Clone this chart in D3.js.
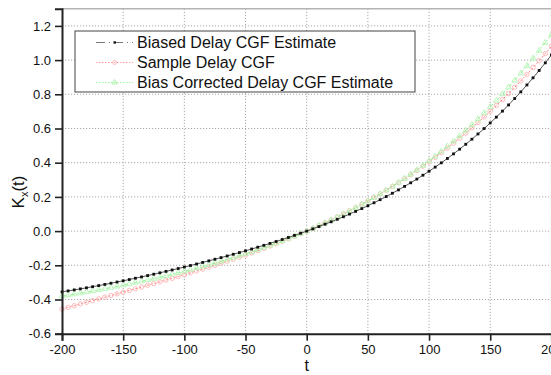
<!DOCTYPE html>
<html>
<head>
<meta charset="utf-8">
<script src="https://d3js.org/d3.v7.min.js"></script>
<style>
  body { margin: 0; background: #fff; }
  svg { display: block; font-family: Arial, "Liberation Sans", sans-serif; }
</style>
</head>
<body>
<div id="chart"></div>
<script>
// t values (x axis), one point every 5
const tValues = d3.range(-200, 205, 5);

// Biased Delay CGF Estimate
const biased = [-0.3552, -0.3496, -0.3438, -0.3378, -0.3316, -0.3252, -0.3186, -0.3119, -0.3049, -0.2978,
  -0.2906, -0.2832, -0.2756, -0.2679, -0.2600, -0.2521, -0.2439, -0.2357, -0.2273, -0.2188,
  -0.2101, -0.2013, -0.1923, -0.1833, -0.1740, -0.1646, -0.1551, -0.1454, -0.1355, -0.1254,
  -0.1152, -0.1047, -0.0941, -0.0832, -0.0721, -0.0608, -0.0492, -0.0373, -0.0252, -0.0127, 0,
  0.0131, 0.0265, 0.0402, 0.0544, 0.0689, 0.0839, 0.0993, 0.1152, 0.1315, 0.1484,
  0.1657, 0.1837, 0.2022, 0.2213, 0.2410, 0.2614, 0.2825, 0.3043, 0.3268, 0.3501,
  0.3742, 0.3991, 0.4249, 0.4516, 0.4792, 0.5078, 0.5374, 0.5680, 0.5997, 0.6325,
  0.6664, 0.7015, 0.7379, 0.7755, 0.8144, 0.8547, 0.8964, 0.9394, 0.9840, 1.0301];

// Sample Delay CGF
const sample = [-0.456, -0.4460, -0.4361, -0.4262, -0.4163, -0.4065, -0.3966, -0.3868, -0.3769, -0.3671,
  -0.3572, -0.3473, -0.3373, -0.3273, -0.3172, -0.3071, -0.2969, -0.2866, -0.2762, -0.2656,
  -0.255, -0.2442, -0.2333, -0.2223, -0.2110, -0.1997, -0.1881, -0.1763, -0.1643, -0.1521,
  -0.1397, -0.1270, -0.1141, -0.1009, -0.0874, -0.0737, -0.0596, -0.0452, -0.0305, -0.0154, 0,
  0.0158, 0.0320, 0.0485, 0.0655, 0.0829, 0.1008, 0.1191, 0.1378, 0.1571, 0.1768,
  0.1971, 0.2179, 0.2392, 0.2611, 0.2835, 0.3066, 0.3302, 0.3545, 0.3794, 0.405,
  0.4312, 0.4582, 0.4858, 0.5141, 0.5432, 0.5731, 0.6037, 0.6351, 0.6673, 0.7003,
  0.7342, 0.7689, 0.8045, 0.8410, 0.8785, 0.9168, 0.9561, 0.9964, 1.0377, 1.080];

// Bias Corrected Delay CGF Estimate
const corrected = [-0.380, -0.3743, -0.3685, -0.3626, -0.3565, -0.3502, -0.3437, -0.3371, -0.3303, -0.3233,
  -0.3162, -0.3089, -0.3014, -0.2937, -0.2859, -0.2779, -0.2697, -0.2613, -0.2528, -0.2440,
  -0.235, -0.2258, -0.2164, -0.2068, -0.1969, -0.1868, -0.1765, -0.1659, -0.1550, -0.1439,
  -0.1324, -0.1207, -0.1087, -0.0963, -0.0837, -0.0706, -0.0573, -0.0435, -0.0294, -0.0149, 0,
  0.0153, 0.0311, 0.0473, 0.0640, 0.0812, 0.0989, 0.1171, 0.1359, 0.1552, 0.1751,
  0.1956, 0.2166, 0.2384, 0.2608, 0.2838, 0.3076, 0.3320, 0.3573, 0.3832, 0.41,
  0.4376, 0.4660, 0.4953, 0.5254, 0.5565, 0.5885, 0.6214, 0.6554, 0.6903, 0.7263,
  0.7634, 0.8016, 0.8409, 0.8813, 0.9230, 0.9658, 1.0099, 1.0553, 1.1020, 1.150];

const seriesNames = ["Biased Delay CGF Estimate", "Sample Delay CGF", "Bias Corrected Delay CGF Estimate"];

const xTicks = [-200, -150, -100, -50, 0, 50, 100, 150, 200];
const yTicks = [-0.6, -0.4, -0.2, 0.0, 0.2, 0.4, 0.6, 0.8, 1.0, 1.2];

class CgfChart {

  constructor(_config) {
    this.config = {
      parentElement: _config.parentElement,
      containerWidth: 551,
      containerHeight: 375,
      margin: {top: 8.8, right: -0.4, bottom: 41.3, left: 62}
    }
    this.initVis();
  }

  initVis() {
    let vis = this;
    let c = vis.config;
    vis.width = c.containerWidth - c.margin.left - c.margin.right;
    vis.height = c.containerHeight - c.margin.top - c.margin.bottom;

    vis.svg = d3.select(c.parentElement).append('svg')
        .attr('width', c.containerWidth)
        .attr('height', c.containerHeight);

    vis.chart = vis.svg.append('g')
        .attr('transform', `translate(${c.margin.left},${c.margin.top})`);

    vis.x = d3.scaleLinear().domain([-200, 200]).range([0, vis.width]);
    vis.y = d3.scaleLinear().domain([-0.6, 1.3]).range([vis.height, 0]);

    // dotted grid
    vis.chart.append('g').selectAll('line.gx')
      .data(xTicks.slice(1))
      .join('line')
        .attr('x1', d => vis.x(d)).attr('x2', d => vis.x(d))
        .attr('y1', 0).attr('y2', vis.height)
        .attr('stroke', '#aaa').attr('stroke-width', 1)
        .attr('stroke-dasharray', '1.2,1.8');
    vis.chart.append('g').selectAll('line.gy')
      .data(yTicks.slice(1))
      .join('line')
        .attr('x1', 0).attr('x2', vis.width)
        .attr('y1', d => vis.y(d)).attr('y2', d => vis.y(d))
        .attr('stroke', '#aaa').attr('stroke-width', 1)
        .attr('stroke-dasharray', '1.2,1.8');

    // top frame line
    vis.chart.append('line')
      .attr('x1', 0).attr('x2', vis.width)
      .attr('y1', 0).attr('y2', 0)
      .attr('stroke', '#b4b4b4').attr('stroke-width', 1.5);

    vis.drawSeries();
    vis.drawLegend();
    vis.drawAxes();
  }

  drawSeries() {
    let vis = this;
    const line = vals => d3.line()
      .x((d, i) => vis.x(tValues[i]))
      .y(d => vis.y(d))(vals);

    // sample (red)
    vis.chart.append('path')
      .attr('d', line(sample))
      .attr('fill', 'none').attr('stroke', '#ff7b7b').attr('stroke-width', 1)
      .attr('stroke-dasharray', '2,2');
    vis.chart.append('g').selectAll('circle')
      .data(sample)
      .join('circle')
        .attr('cx', (d, i) => vis.x(tValues[i]))
        .attr('cy', d => vis.y(d))
        .attr('r', 2.2)
        .attr('fill', 'none').attr('stroke', '#ffb4b4').attr('stroke-width', 0.9);

    // corrected (green)
    vis.chart.append('path')
      .attr('d', line(corrected))
      .attr('fill', 'none').attr('stroke', '#8cf08c').attr('stroke-width', 1)
      .attr('stroke-dasharray', '4,2,1,2');
    vis.chart.append('g').selectAll('path.tri')
      .data(corrected)
      .join('path')
        .attr('d', d3.symbol(d3.symbolTriangle, 14))
        .attr('transform', (d, i) => `translate(${vis.x(tValues[i])},${vis.y(d)})`)
        .attr('fill', 'none').attr('stroke', '#b4f5b4').attr('stroke-width', 0.9);

    // biased (black)
    vis.chart.append('path')
      .attr('d', line(biased))
      .attr('fill', 'none').attr('stroke', '#555').attr('stroke-width', 1);
    vis.chart.append('g').selectAll('rect')
      .data(biased)
      .join('rect')
        .attr('x', (d, i) => vis.x(tValues[i]) - 1.4)
        .attr('y', d => vis.y(d) - 1.4)
        .attr('width', 2.8).attr('height', 2.8)
        .attr('fill', '#111');
  }

  drawLegend() {
    let vis = this;
    const lg = vis.svg.append('g').attr('transform', 'translate(75,31)');
    lg.append('rect')
      .attr('width', 340).attr('height', 61)
      .attr('fill', '#fff').attr('stroke', '#444').attr('stroke-width', 1);

    const rows = [
      {stroke: '#777', dash: '9,4,1,4', mark: 'rect', mcol: '#111'},
      {stroke: '#ff9a9a', dash: '1.5,1.5', mark: 'circle', mcol: '#ffc0c0'},
      {stroke: '#9cf59c', dash: '1.5,1.5', mark: 'tri', mcol: '#aef5ae'}
    ];
    rows.forEach((r, i) => {
      const cy = 11.5 + i * 20;
      lg.append('line')
        .attr('x1', 21).attr('x2', 58).attr('y1', cy).attr('y2', cy)
        .attr('stroke', r.stroke).attr('stroke-width', 1)
        .attr('stroke-dasharray', r.dash);
      if (r.mark == 'rect') {
        lg.append('rect').attr('x', 38.5).attr('y', cy - 1.2)
          .attr('width', 2.4).attr('height', 2.4).attr('fill', r.mcol);
      } else if (r.mark == 'circle') {
        lg.append('circle').attr('cx', 39.5).attr('cy', cy).attr('r', 2)
          .attr('fill', 'none').attr('stroke', r.mcol);
      } else {
        lg.append('path').attr('d', d3.symbol(d3.symbolTriangle, 12))
          .attr('transform', `translate(39.5,${cy})`)
          .attr('fill', 'none').attr('stroke', r.mcol);
      }
      lg.append('text')
        .attr('x', 62).attr('y', cy + 5.5)
        .attr('font-size', 16).attr('fill', '#111')
        .text(seriesNames[i]);
    });
  }

  drawAxes() {
    let vis = this;
    const xMinor = d3.range(-200, 201, 25);
    const yMinor = d3.range(-6, 14).map(d => d / 10);
    // plain hyphen for negative numbers, like the original
    const fmtX = d => String(d);
    const fmtY = d => d.toFixed(1);

    const xAxis = vis.chart.append('g').attr('transform', `translate(0,${vis.height})`);
    xAxis.call(d3.axisBottom(vis.x).tickValues(xMinor).tickSize(4).tickFormat(''));
    xAxis.call(d3.axisBottom(vis.x).tickValues(xTicks).tickSize(7).tickPadding(4)
      .tickFormat(fmtX));

    const yAxis = vis.chart.append('g');
    yAxis.call(d3.axisLeft(vis.y).tickValues(yMinor).tickSize(4).tickFormat(''));
    yAxis.call(d3.axisLeft(vis.y).tickValues(yTicks).tickSize(7).tickPadding(4)
      .tickFormat(fmtY));

    vis.chart.selectAll('.domain').attr('stroke', '#222').attr('stroke-width', 2);
    vis.chart.selectAll('.tick line').attr('stroke', '#222').attr('stroke-width', 1.6);
    vis.chart.selectAll('.tick text')
      .attr('font-size', 13).attr('fill', '#111')
      .attr('font-family', 'Arial, "Liberation Sans", sans-serif');

    vis.svg.append('text')
      .attr('x', 62 + vis.x(0)).attr('y', 371)
      .attr('text-anchor', 'middle').attr('font-size', 16).attr('fill', '#111')
      .text('t');

    const yl = vis.svg.append('text')
      .attr('transform', 'translate(24,192) rotate(-90)')
      .attr('text-anchor', 'middle').attr('font-size', 17).attr('fill', '#111');
    yl.append('tspan').text('K');
    yl.append('tspan').attr('font-size', 11).attr('dy', 4).text('x');
    yl.append('tspan').attr('dy', -4).text('(t)');
  }
}

new CgfChart({parentElement: '#chart'});
</script>
</body>
</html>
